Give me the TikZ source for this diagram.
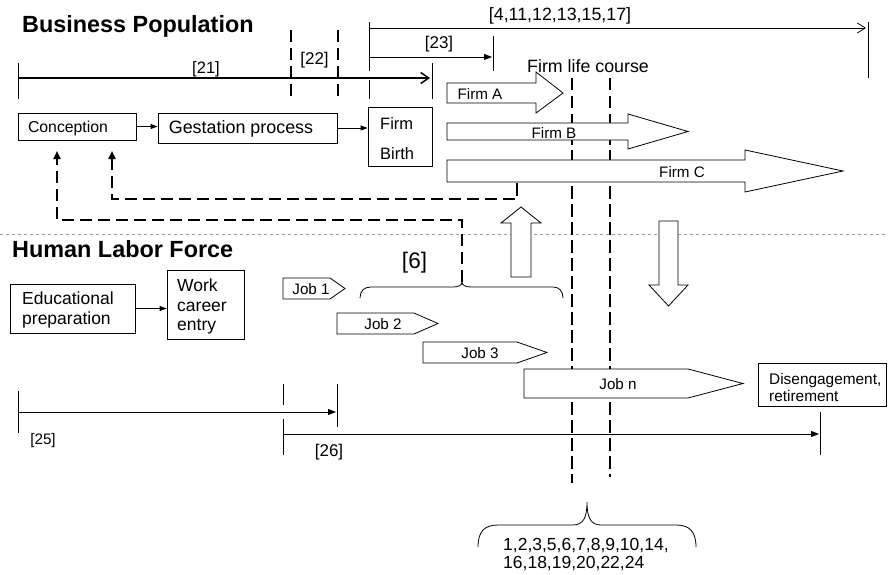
\documentclass[tikz,border=0pt]{standalone}
\usepackage{fontspec}
\setmainfont{Liberation Sans}
\usetikzlibrary{arrows.meta}
\begin{document}
\begin{tikzpicture}[x=1pt,y=-1pt,
  box/.style={draw, line width=0.8pt, inner sep=0pt, fill=white},
  txt/.style={inner sep=0pt},
  fa/.style={font=\fontsize{15.2}{17}\selectfont},
  fb/.style={font=\fontsize{17}{20}\selectfont},
  fbig/.style={font=\fontsize{22.5}{26}\selectfont},
  ttl/.style={inner sep=0pt, anchor=base west, font=\fontsize{23.4}{27}\selectfont\bfseries},
  thin/.style={line width=0.8pt},
  dashline/.style={line width=2.7pt, dash pattern=on 12.5pt off 5.5pt},
  hollow/.style={draw, line width=0.8pt, fill=white, line join=miter},
  tri/.style={-{Triangle[length=8pt,width=6pt]}},
  barb/.style={-{Straight Barb[length=8pt,width=11pt]}}
]
\useasboundingbox (0,0) rectangle (888,575);

% titles
\node[ttl] (tBP) at (22,33) {Business Population};
\node[ttl] (tHL) at (12,257) {Human Labor Force};

% separator
\coordinate (sepL) at (0,234);
\coordinate (sepR) at (888,234);
\draw[gray!75, line width=0.8pt, dash pattern=on 3pt off 3pt] (sepL) -- (sepR);

% firm life course dashed verticals (behind arrows)
\coordinate (fl1t) at (572,78); \coordinate (fl1b) at (572,483);
\coordinate (fl2t) at (610,78); \coordinate (fl2b) at (610,477);
\draw[dashline] (fl1t) -- (fl1b);
\draw[dashline] (fl2t) -- (fl2b);

% top timelines
\coordinate (a21s) at (18,78); \coordinate (a21e) at (430,78);
\draw[line width=1.5pt, barb] (a21s) -- (a21e);
\draw[thin] (18,63) -- (18,99);
\draw[thin] (432,63) -- (432,99);
\node[txt, font=\fontsize{16.5}{19}\selectfont] (l21) at (206,69) {[21]};

\coordinate (d22a) at (291,30); \coordinate (d22b) at (291,99);
\coordinate (d22c) at (338,30); \coordinate (d22d) at (338,99);
\draw[dashline] (d22a) -- (d22b);
\draw[dashline] (d22c) -- (d22d);
\node[txt, fb] (l22) at (314.5,60) {[22]};

\draw[thin] (369,22) -- (369,71);
\draw[thin] (369,80) -- (369,99);
\coordinate (a4s) at (369,28); \coordinate (a4e) at (866,28);
\draw[thin, -{Straight Barb[length=8pt,width=10pt]}] (a4s) -- (a4e);
\draw[thin] (868,22) -- (868,78);
\node[txt, font=\fontsize{17.8}{20}\selectfont] (l4) at (560,16) {[4,11,12,13,15,17]};

\coordinate (a23s) at (369,57); \coordinate (a23e) at (492,57);
\draw[thin, tri] (a23s) -- (a23e);
\draw[thin] (493,36) -- (493,71);
\node[txt, fb] (l23) at (439,44) {[23]};

\node[txt, font=\fontsize{17.8}{20}\selectfont] (flc) at (588,66) {Firm life course};

% business boxes
\node[box, minimum width=118pt, minimum height=27pt] (conc) at (77,126.5) {};
\node[txt, font=\fontsize{15.8}{18}\selectfont] (concT) at (68,128) {Conception};
\node[box, minimum width=179pt, minimum height=30pt] (gest) at (247.5,128) {};
\node[txt, font=\fontsize{17.9}{20}\selectfont] (gestT) at (241,129) {Gestation process};
\node[box, minimum width=64pt, minimum height=59pt] (birth) at (400,136.5) {};
\node[txt, anchor=west, align=left, font=\fontsize{16.5}{30}\selectfont] (birthT) at (380,138.5) {Firm\\Birth};
\draw[thin, -{Triangle[length=7pt,width=5pt]}] (conc.east) -- (conc.east -| gest.west);
\draw[thin, -{Triangle[length=7pt,width=5pt]}] (gest.east) -- (gest.east -| birth.west);

% firm arrows
\draw[hollow] (447,83) -- (536,83) -- (536,72) -- (563,93) -- (536,113) -- (536,103) -- (447,103) -- cycle;
\node[txt, fa] (fA) at (480,94) {Firm A};
\draw[hollow] (447,123) -- (628,123) -- (628,114) -- (688,131.5) -- (628,149) -- (628,140) -- (447,140) -- cycle;
\node[txt, fa] (fB) at (554,132.5) {Firm B};
\draw[hollow] (447,160) -- (745,160) -- (745,150) -- (843,171) -- (745,192) -- (745,182) -- (447,182) -- cycle;
\node[txt, fa] (fC) at (682,172) {Firm C};

% feedback dashed arrows
\coordinate (fbA) at (517,183);
\coordinate (fbAt) at (112,151);
\coordinate (fbB) at (462,282);
\coordinate (fbBt) at (57,151);
\draw[dashline, -{Triangle[length=8pt,width=7pt]}] (fbA) |- (112,199) -- (fbAt);
\draw[dashline, -{Triangle[length=8pt,width=7pt]}] (fbB) |- (57,220) -- (fbBt);

% up / down hollow arrows
\draw[hollow] (511,277) -- (511,223) -- (501,223) -- (521,207) -- (541,223) -- (531,223) -- (531,277) -- cycle;
\draw[hollow] (659,221) -- (678,221) -- (678,285) -- (688,285) -- (668.5,306) -- (649,285) -- (659,285) -- cycle;

% brace [6]
\draw[thin] (360,298) .. controls (360,291) and (364,287) .. (371,287) -- (453,287)
  .. controls (459,287) and (462,285) .. (462,282)
  .. controls (462,285) and (465,287) .. (471,287) -- (553,287)
  .. controls (559,287) and (563,291) .. (563,298);
\node[txt, fbig] (l6) at (414.5,263) {[6]};

% labor boxes
\node[box, minimum width=125pt, minimum height=49pt] (edu) at (72.5,308.5) {};
\node[txt, anchor=west, align=left, font=\fontsize{17.5}{20}\selectfont] (eduT) at (22,309.5) {Educational\\preparation};
\node[box, minimum width=77pt, minimum height=69pt] (work) at (205.5,304.5) {};
\node[txt, anchor=west, align=left, font=\fontsize{17.5}{19.5}\selectfont] (workT) at (177,306.5) {Work\\career\\entry};
\draw[thin, -{Triangle[length=7pt,width=5pt]}] (edu.east) -- (edu.east -| work.west);

% jobs
\draw[hollow] (283,278) -- (330,278) -- (345,288.5) -- (330,299) -- (283,299) -- cycle;
\node[txt, fa] (j1) at (311,289.5) {Job 1};
\draw[hollow] (337,313) -- (414,313) -- (438,323.5) -- (414,334) -- (337,334) -- cycle;
\node[txt, fa] (j2) at (383,324.5) {Job 2};
\draw[hollow] (423,342) -- (517,342) -- (547,352.5) -- (517,363) -- (423,363) -- cycle;
\node[txt, fa] (j3) at (480,353.5) {Job 3};
\draw[hollow] (524,369) -- (688,369) -- (743,383.5) -- (688,398) -- (524,398) -- cycle;
\node[txt, fa] (jn) at (618,384.5) {Job n};

\node[box, minimum width=128pt, minimum height=43pt] (dis) at (822,384.5) {};
\node[txt, anchor=west, align=left, font=\fontsize{15.4}{17}\selectfont] (disT) at (769,387.5) {Disengagement,\\retirement};

% bottom timelines
\coordinate (a25s) at (18,412); \coordinate (a25e) at (336,412);
\draw[thin, tri] (a25s) -- (a25e);
\draw[thin] (18,391) -- (18,433);
\draw[thin] (337,384) -- (337,427);
\node[txt, fa] (l25) at (43,441) {[25]};

\draw[thin] (283,384) -- (283,405);
\draw[thin] (283,419) -- (283,455);
\coordinate (a26s) at (283,434); \coordinate (a26e) at (819,434);
\draw[thin, tri] (a26s) -- (a26e);
\draw[thin] (820,412) -- (820,455);
\node[txt, fb] (l26) at (329,452) {[26]};

% bottom brace
\draw[thin] (478,547) .. controls (478,532) and (484,525) .. (498,525) -- (573,525)
  .. controls (583,525) and (587,518) .. (587,502)
  .. controls (587,518) and (591,525) .. (601,525) -- (676,525)
  .. controls (690,525) and (696,532) .. (696,547);
\node[txt, anchor=west, align=left, font=\fontsize{17.5}{18}\selectfont] (nums) at (503,555) {1,2,3,5,6,7,8,9,10,14,\\16,18,19,20,22,24};

\end{tikzpicture}
\end{document}
